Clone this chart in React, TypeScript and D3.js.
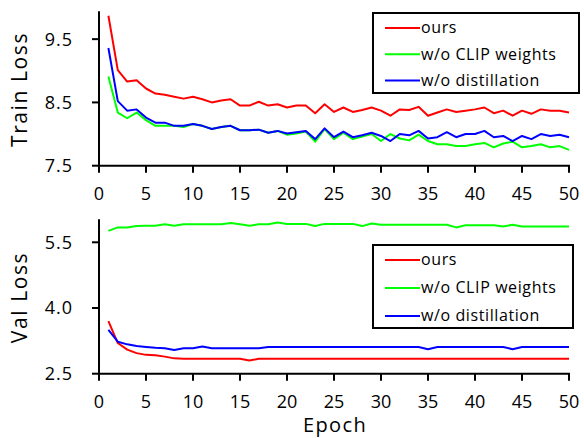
import React from "react";
import * as d3 from "d3";

const epochs = d3.range(1, 51);
const seriesNames = ["ours", "w/o CLIP weights", "w/o distillation"];
const seriesColors = ["#ff0000", "#00ff00", "#0000ff"];
const xTicks = [0, 5, 10, 15, 20, 25, 30, 35, 40, 45, 50];
const trainTicks = [7.5, 8.5, 9.5];
const valTicks = [2.5, 4.0, 5.5];

const trainOurs = [9.87, 9.01, 8.83, 8.85, 8.72, 8.64, 8.62, 8.59, 8.56, 8.59, 8.55, 8.5, 8.53, 8.55, 8.45, 8.45, 8.51, 8.45, 8.47, 8.42, 8.45, 8.45, 8.33, 8.47, 8.35, 8.42, 8.35, 8.38, 8.42, 8.37, 8.29, 8.39, 8.38, 8.43, 8.29, 8.34, 8.39, 8.35, 8.37, 8.39, 8.42, 8.33, 8.37, 8.29, 8.37, 8.32, 8.39, 8.37, 8.37, 8.34];
const trainNoClip = [8.91, 8.34, 8.25, 8.34, 8.22, 8.13, 8.13, 8.13, 8.11, 8.16, 8.13, 8.08, 8.11, 8.13, 8.06, 8.06, 8.07, 8.02, 8.05, 7.99, 8.01, 8.04, 7.88, 8.08, 7.92, 8.02, 7.92, 7.96, 8.0, 7.89, 8.0, 7.93, 7.9, 7.99, 7.89, 7.84, 7.84, 7.81, 7.81, 7.84, 7.86, 7.79, 7.85, 7.88, 7.79, 7.81, 7.84, 7.79, 7.81, 7.75];
const trainNoDistill = [9.36, 8.52, 8.37, 8.39, 8.26, 8.18, 8.18, 8.13, 8.13, 8.16, 8.13, 8.08, 8.11, 8.13, 8.06, 8.06, 8.07, 8.02, 8.05, 8.01, 8.03, 8.05, 7.92, 8.09, 7.95, 8.04, 7.95, 7.98, 8.02, 7.97, 7.89, 8.0, 7.98, 8.05, 7.93, 7.95, 8.03, 7.95, 8.0, 8.0, 8.05, 7.95, 7.97, 7.89, 7.97, 7.92, 8.0, 7.97, 7.99, 7.95];

const valOurs = [3.7, 3.2, 3.05, 2.97, 2.93, 2.92, 2.89, 2.85, 2.84, 2.84, 2.84, 2.84, 2.84, 2.84, 2.84, 2.8, 2.84, 2.84, 2.84, 2.84, 2.84, 2.84, 2.84, 2.84, 2.84, 2.84, 2.84, 2.84, 2.84, 2.84, 2.84, 2.84, 2.84, 2.84, 2.84, 2.84, 2.84, 2.84, 2.84, 2.84, 2.84, 2.84, 2.84, 2.84, 2.84, 2.84, 2.84, 2.84, 2.84, 2.84];
const valNoClip = [5.76, 5.84, 5.84, 5.87, 5.88, 5.88, 5.91, 5.88, 5.91, 5.91, 5.91, 5.91, 5.91, 5.94, 5.91, 5.88, 5.91, 5.91, 5.95, 5.92, 5.92, 5.92, 5.87, 5.92, 5.92, 5.92, 5.92, 5.87, 5.93, 5.9, 5.9, 5.9, 5.9, 5.9, 5.9, 5.9, 5.9, 5.84, 5.89, 5.89, 5.89, 5.89, 5.86, 5.9, 5.86, 5.86, 5.86, 5.86, 5.86, 5.86];
const valNoDistill = [3.5, 3.23, 3.17, 3.13, 3.11, 3.09, 3.08, 3.04, 3.08, 3.08, 3.12, 3.08, 3.08, 3.08, 3.08, 3.08, 3.08, 3.11, 3.11, 3.11, 3.11, 3.11, 3.11, 3.11, 3.11, 3.11, 3.11, 3.11, 3.11, 3.11, 3.11, 3.11, 3.11, 3.11, 3.06, 3.11, 3.11, 3.11, 3.11, 3.11, 3.11, 3.11, 3.11, 3.06, 3.11, 3.11, 3.11, 3.11, 3.11, 3.11];

const FONT = "'Open Sans', 'DejaVu Sans', sans-serif";
const INK = "#000";

type PanelProps = {
  series: number[][];
  yDomain: [number, number];
  yRange: [number, number];
  yTicks: number[];
  yLabel: string;
  legend: { x: number; y: number; w: number; h: number; rowStart: number; rowGap: number };
  showXTitle: boolean;
};

const x = d3.scaleLinear().domain([0, 50]).range([99, 569]);

function Panel({ series, yDomain, yRange, yTicks, yLabel, legend, showXTitle }: PanelProps) {
  const y = d3.scaleLinear().domain(yDomain).range(yRange);
  const line = d3
    .line<number>()
    .x((_, i) => x(epochs[i]))
    .y((d) => y(d));
  const bottom = yRange[0];
  const top = yRange[1];
  const titleY = (top + bottom) / 2 + 1;
  return (
    <g>
      {series.map((s, i) => (
        <path key={i} d={line(s) || ""} fill="none" stroke={seriesColors[i]} strokeWidth={2} strokeLinejoin="round" />
      ))}
      <line x1={x(0)} x2={x(0)} y1={top} y2={bottom} stroke={INK} strokeWidth={2} />
      <line x1={x(0) - 1} x2={x(50) + 1} y1={bottom} y2={bottom} stroke={INK} strokeWidth={2} />
      {yTicks.map((t) => (
        <g key={t}>
          <line x1={x(0) - 7} x2={x(0)} y1={y(t)} y2={y(t)} stroke={INK} strokeWidth={2} />
          <text x={73} y={y(t)} dy="0.36em" textAnchor="end" fontSize={18} letterSpacing={1} fontFamily={FONT} fill={INK}>
            {t.toFixed(1)}
          </text>
        </g>
      ))}
      {xTicks.map((t) => (
        <g key={t}>
          <line x1={x(t)} x2={x(t)} y1={bottom} y2={bottom + 7} stroke={INK} strokeWidth={2} />
          <text x={x(t)} y={bottom + 34} textAnchor="middle" fontSize={18} fontFamily={FONT} fill={INK}>
            {t}
          </text>
        </g>
      ))}
      <text
        transform={`translate(27,${titleY}) rotate(-90)`}
        textAnchor="middle"
        fontSize={21}
        letterSpacing={1.6}
        fontFamily={FONT}
        fill={INK}
      >
        {yLabel}
      </text>
      {showXTitle && (
        <text x={335} y={432} textAnchor="middle" fontSize={20} letterSpacing={1.4} fontFamily={FONT} fill={INK}>
          Epoch
        </text>
      )}
      <rect x={legend.x} y={legend.y} width={legend.w} height={legend.h} fill="#fff" stroke={INK} strokeWidth={2} />
      {seriesNames.map((n, i) => {
        const ly = legend.rowStart + i * legend.rowGap;
        return (
          <g key={n}>
            <line x1={legend.x + 12} x2={legend.x + 47} y1={ly} y2={ly} stroke={seriesColors[i]} strokeWidth={2} />
            <text x={legend.x + 48} y={ly} dy="0.33em" fontSize={16} letterSpacing={0.6} fontFamily={FONT} fill={INK}>
              {n}
            </text>
          </g>
        );
      })}
    </g>
  );
}

export default function App() {
  return (
    <svg width={584} height={438} style={{ position: "absolute", left: 0, top: 0, background: "#fff" }}>
      <rect width={584} height={438} fill="#fff" />
      <Panel
        series={[trainOurs, trainNoClip, trainNoDistill]}
        yDomain={[7.5, 9.94]}
        yRange={[165.7, 11.3]}
        yTicks={trainTicks}
        yLabel="Train Loss"
        legend={{ x: 373, y: 13, w: 206, h: 80, rowStart: 28, rowGap: 26.3 }}
        showXTitle={false}
      />
      <Panel
        series={[valOurs, valNoClip, valNoDistill]}
        yDomain={[2.5, 6.025]}
        yRange={[373.7, 219.3]}
        yTicks={valTicks}
        yLabel="Val Loss"
        legend={{ x: 373, y: 245, w: 200, h: 83, rowStart: 260, rowGap: 28 }}
        showXTitle={true}
      />
    </svg>
  );
}
